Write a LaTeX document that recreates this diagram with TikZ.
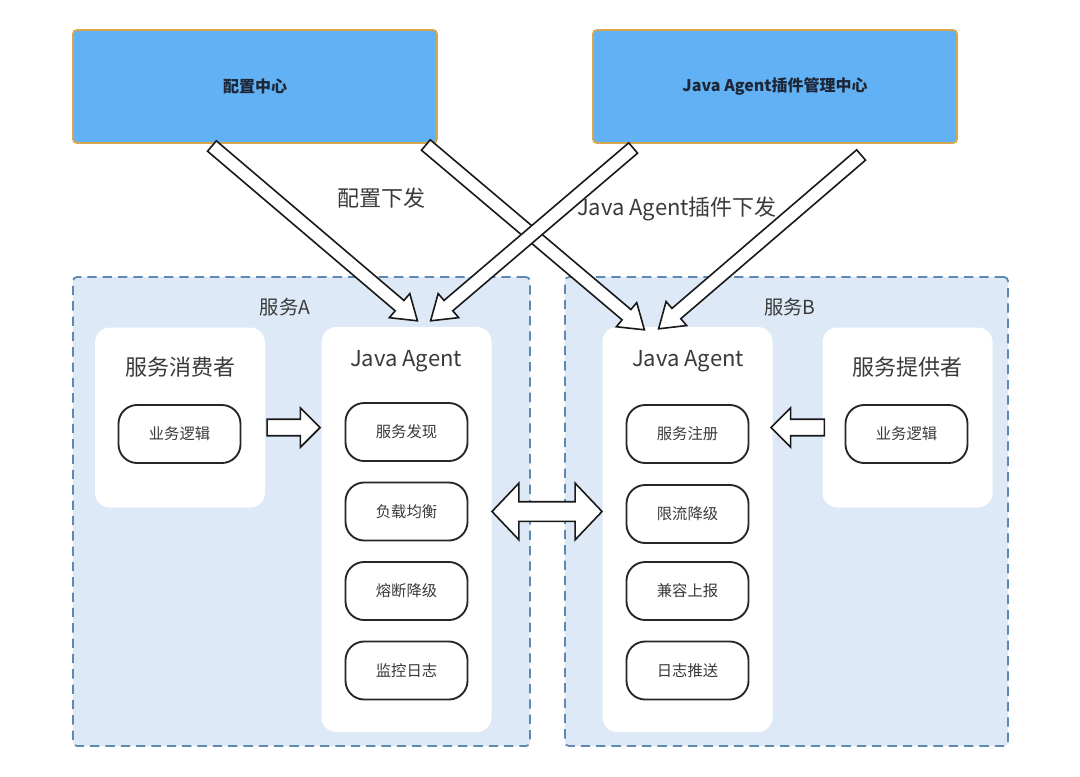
\documentclass[tikz,border=0pt]{standalone}
\usepackage{fontspec}
\setmainfont{Noto Sans CJK SC}
\usetikzlibrary{shapes.arrows,calc}

\definecolor{hubblue}{RGB}{98,177,244}
\definecolor{hubedge}{RGB}{214,168,78}
\definecolor{hubtext}{RGB}{28,38,54}
\definecolor{svcfill}{RGB}{221,233,246}
\definecolor{svcedge}{RGB}{96,136,176}
\definecolor{ink}{RGB}{58,58,58}

\tikzset{
  hubbox/.style={draw=hubedge, line width=1.4pt, fill=hubblue, rounded corners=3pt,
    minimum width=273pt, minimum height=84.75pt, text=hubtext,
    font=\bfseries\fontsize{12}{14}\selectfont},
  svcbox/.style={draw=svcedge, line width=1.3pt, fill=svcfill, rounded corners=3pt,
    dash pattern=on 7pt off 4.5pt, minimum height=351.75pt},
  card/.style={fill=white, rounded corners=11pt, minimum width=127.5pt},
  unit/.style={draw=black!85, line width=1.4pt, fill=white, rounded corners=14pt,
    minimum width=91.5pt, minimum height=43.5pt, text=ink,
    font=\fontsize{11.5}{13}\selectfont},
  big/.style={text=ink, font=\fontsize{16.5}{19}\selectfont},
  pushtip/.style={single arrow, draw=black!90, fill=white, line width=1.2pt,
    inner sep=0pt, inner ysep=4.5pt, single arrow head extend=6.75pt,
    single arrow tip angle=68},
  sidetip/.style={single arrow, draw=black!90, fill=white, line width=1.2pt,
    inner sep=0pt, inner ysep=5.6pt, single arrow head extend=8.6pt,
    single arrow tip angle=90},
  swaptip/.style={double arrow, draw=black!90, fill=white, line width=1.2pt,
    inner sep=0pt, inner ysep=6.75pt, double arrow head extend=13.9pt,
    double arrow tip angle=93}
}

% block arrow from #2 to #3 (yscale=-1, so the angle flips)
\newcommand\pusharrow[3][pushtip]{%
  \path let \p1=($(#3)-(#2)$), \n1={atan2(\y1,\x1)}, \n2={veclen(\x1,\y1)} in
    node[#1, anchor=tip, rotate=-\n1, minimum height=\n2] at (#3) {};}

\begin{document}
\begin{tikzpicture}[x=0.75pt,y=0.75pt,yscale=-1,xscale=1]
\useasboundingbox (0,0) rectangle (1080,776);

% top boxes
\node[hubbox] (cfg) at (255,86.5) {配置中心};
\node[hubbox] (plug) at (775,86.5) {Java Agent插件管理中心};

% service areas
\node[svcbox, minimum width=342.75pt] (svcA) at (301.5,511.5) {};
\node[svcbox, minimum width=332.25pt] (svcB) at (786.5,511.5) {};
\node[big, font=\fontsize{14.5}{17}\selectfont] (svcAlabel) at (285,307) {服务A};
\node[big, font=\fontsize{14.5}{17}\selectfont] (svcBlabel) at (790,307) {服务B};

% white cards
\node[card, minimum height=135pt] (consumer) at (180,417.5) {};
\node[card, minimum height=303.75pt] (agentA) at (406.5,529.5) {};
\node[card, minimum height=303.75pt] (agentB) at (687.5,529.5) {};
\node[card, minimum height=135pt] (provider) at (907.5,417.5) {};

% Text Node
\node[big] (consumerT) at (180,367) {服务消费者};
\node[big] (providerT) at (907,367) {服务提供者};
\node[big] (agentAT) at (406,361) {Java Agent};
\node[big] (agentBT) at (688,361) {Java Agent};

% units
\node[unit] (bizA) at (179.5,434) {业务逻辑};
\node[unit] (bizB) at (906.5,434) {业务逻辑};

\node[unit] (findA) at (406.5,432) {服务发现};
\node[unit] (lbA) at (406.5,511.5) {负载均衡};
\node[unit] (cbA) at (406.5,591) {熔断降级};
\node[unit] (logA) at (406.5,670.5) {监控日志};

\node[unit] (regB) at (687.5,434) {服务注册};
\node[unit] (rateB) at (687.5,514) {限流降级};
\node[unit] (compB) at (687.5,591) {兼容上报};
\node[unit] (logB) at (687.5,670.5) {日志推送};

% Text Node
\node[big] (cfgT) at (381,198) {配置下发};
\node[big] (plugT) at (677,209) {Java Agent插件下发};

% push arrows
\coordinate (c1a) at ($(cfg.south)+(-42,3)$);
\coordinate (c1b) at ($(agentA.north)+(12,-5)$);
\coordinate (c2a) at ($(cfg.south east)+(-11,2)$);
\coordinate (c2b) at ($(agentB.north)+(-42,4)$);
\coordinate (p1a) at ($(plug.south west)+(40,5)$);
\coordinate (p1b) at ($(agentA.north)+(23,-5)$);
\coordinate (p2a) at ($(plug.south)+(85,12)$);
\coordinate (p2b) at ($(agentB.north)+(-30,3)$);
\pusharrow{c1a}{c1b}
\pusharrow{c2a}{c2b}
\pusharrow{p1a}{p1b}
\pusharrow{p2a}{p2b}

% side arrows
\coordinate (useA) at ($(consumer.east)+(3,10)$);
\coordinate (useB) at ($(provider.west)+(1,10)$);
\pusharrow[sidetip]{useA}{agentA.west |- useA}
\pusharrow[sidetip]{useB}{$(agentB.east |- useB)+(-3,0)$}

% swap arrow
\node[swaptip, minimum height=82.5pt] (swap) at ($(agentA.east |- lbA)!.5!(agentB.west |- lbA)$) {};

\end{tikzpicture}
\end{document}
